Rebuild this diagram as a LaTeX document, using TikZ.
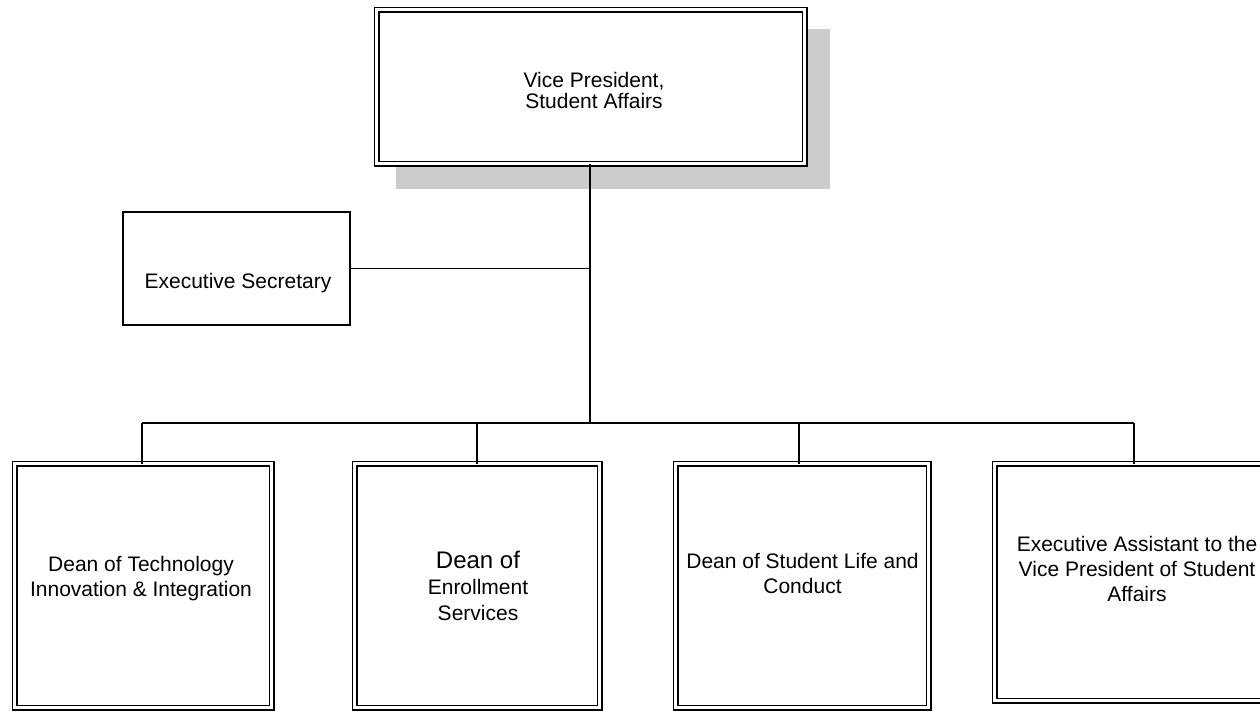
\documentclass[tikz,border=0pt]{standalone}
\usepackage{fontspec}
\setmainfont{Liberation Sans}
\usetikzlibrary{backgrounds}
\definecolor{shadowgray}{HTML}{CCCCCC}
\tikzset{
  dblbox/.style={draw=black, line width=1.2pt, double=white, double distance=3.6pt,
    fill=white, inner sep=0pt, outer sep=0pt},
  sglbox/.style={draw=black, line width=1.3pt, fill=white, inner sep=0pt, outer sep=0pt},
  lbl/.style={inner sep=0pt, outer sep=0pt, anchor=north, align=center,
    font=\fontsize{21}{25}\selectfont},
  conn/.style={draw=black, line width=1.4pt},
  mainconn/.style={draw=black, line width=2pt}
}
\begin{document}
\begin{tikzpicture}[x=1pt,y=-1pt]
\useasboundingbox (0,0) rectangle (1260,712);

% top box
\node[dblbox, minimum width=428pt, minimum height=154pt] (vp) at (590.5,86.5) {};
\begin{scope}[on background layer]
  \fill[shadowgray] ([shift={(19.5,19)}]vp.north west) rectangle ([shift={(25.5,25.5)}]vp.south east);
\end{scope}
\node[lbl, font=\fontsize{21}{21}\selectfont] (vpt) at (594,72) {Vice President,\\Student Affairs};

% executive secretary
\node[sglbox, minimum width=227pt, minimum height=113pt] (sec) at (236.5,268.5) {};
\node[lbl] (sect) at (238,273) {Executive Secretary};

% bottom boxes
\node[dblbox, minimum width=257pt, minimum height=244pt] (b1) at (143,585.5) {};
\node[dblbox, minimum width=245pt, minimum height=244pt] (b2) at (477,585.5) {};
\node[dblbox, minimum width=253pt, minimum height=244pt] (b3) at (802,585.5) {};
\node[dblbox, minimum width=285pt, minimum height=237pt] (b4) at (1137,582) {};

\node[lbl] (b1t) at (141,556.5) {Dean of Technology\\Innovation \& Integration};
\node[lbl, font=\fontsize{21}{26}\selectfont] (b2t) at (478,551) {{\fontsize{24}{26}\selectfont Dean of}\\Enrollment\\Services};
\node[lbl] (b3t) at (802.5,553) {Dean of Student Life and\\Conduct};
\node[lbl] (b4t) at (1137,536.5) {Executive Assistant to the\\Vice President of Student\\Affairs};

% connectors
\coordinate (bus) at (590,423);
\coordinate (d1) at (142,423);
\coordinate (d2) at (477,423);
\coordinate (d3) at (799,423);
\coordinate (d4) at (1134,423);

\draw[mainconn] (vp.south -| bus) -- (bus);
\draw[conn] (sec.east) -- (sec.east -| bus);
\draw[conn] (d1) -- (d4);
\draw[conn] (d1) -- (b1.north -| d1);
\draw[conn] (d2) -- (b2.north -| d2);
\draw[conn] (d3) -- (b3.north -| d3);
\draw[conn] (d4) -- (b4.north -| d4);
\end{tikzpicture}
\end{document}
